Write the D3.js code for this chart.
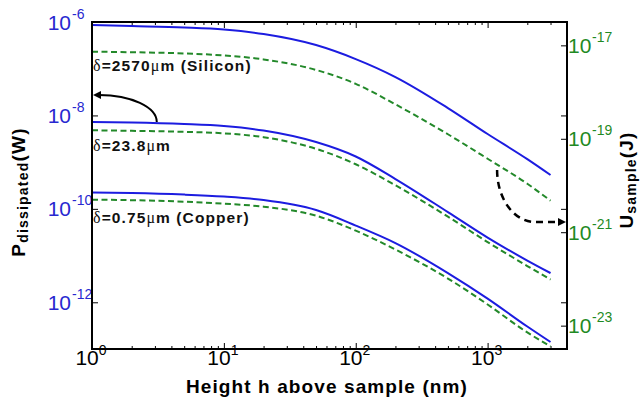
<!DOCTYPE html>
<html><head><meta charset="utf-8">
<script src="https://cdn.jsdelivr.net/npm/d3@7"></script>
<style>body{margin:0;background:#fff}svg{display:block}</style>
</head><body>
<svg id="chart" width="642" height="413"></svg>
<script>
// ---- data ----
const heights = [1, 2, 5, 10, 20, 50, 100, 200, 500, 1000, 2000, 3000];
const pSilicon = [8.63e-7, 8.20e-7, 7.62e-7, 6.90e-7, 5.53e-7, 3.21e-7, 1.61e-7, 6.64e-8, 1.44e-8, 4.00e-9, 1.16e-9, 5.30e-10];
const pMid     = [7.22e-9, 7.05e-9, 6.55e-9, 5.93e-9, 4.75e-9, 2.69e-9, 1.32e-9, 4.35e-10, 8.53e-11, 2.43e-11, 7.81e-12, 4.22e-12];
const pCopper  = [2.23e-10, 2.18e-10, 2.02e-10, 1.83e-10, 1.54e-10, 9.42e-11, 4.39e-11, 1.85e-11, 4.22e-12, 1.20e-12, 3.03e-13, 1.41e-13];
const uSilicon = [7.33e-18, 7.13e-18, 6.71e-18, 6.08e-18, 5.00e-18, 2.98e-18, 1.50e-18, 5.46e-19, 1.25e-19, 3.74e-20, 1.09e-20, 4.73e-21];
const uMid     = [1.52e-19, 1.48e-19, 1.41e-19, 1.31e-19, 1.08e-19, 6.11e-20, 2.85e-20, 1.01e-20, 2.15e-21, 6.14e-22, 1.89e-22, 9.70e-23];
const uCopper  = [4.98e-21, 4.85e-21, 4.51e-21, 4.09e-21, 3.52e-21, 2.26e-21, 1.08e-21, 4.25e-22, 1.02e-22, 2.84e-23, 7.16e-24, 3.60e-24];

const xTicks = [1, 10, 100, 1000];
const xTickExp = ["0", "1", "2", "3"];
const yLeftTicks = [1e-6, 1e-8, 1e-10, 1e-12];
const yLeftExp = ["-6", "-8", "-10", "-12"];
const yRightTicks = [1e-17, 1e-19, 1e-21, 1e-23];
const yRightExp = ["-17", "-19", "-21", "-23"];

const curveLabels = [
  {h: 1, p: 1.15e-7, d: "2570", tail: "m (Silicon)"},
  {h: 1, p: 2.32e-9, d: "23.8", tail: "m"},
  {h: 1, p: 6.67e-11, d: "0.75", tail: "m (Copper)"}
];
const arrowLeft = {from: [3.1, 7.2e-9], to: [1, 2.74e-8]};
const arrowRight = {from: [1180, 2.15e-20], corner: [2290, 1.65e-21], to: [3930, 1.65e-21]};

// ---- layout ----
const L = 92, R = 567, T = 22, B = 349;
const blue = "#1c1ce0", green = "#23892a", blueTxt = "#2828d0", greenTxt = "#1f8a24";
const FONT = "'Liberation Sans', Arial, Helvetica, sans-serif";
const SERIF = "'Liberation Serif', 'Times New Roman', serif";

const svg = d3.select("#chart");
const x = d3.scaleLog().domain([1, 4000]).range([L, R]);
const yL = d3.scaleLog().domain([1e-13, 1e-6]).range([B, T]);
const yR = d3.scaleLog().domain([Math.pow(10, -23.5), Math.pow(10, -16.5)]).range([B, T]);

// minor x ticks
const xMinor = [];
for (let d = 1; d <= 1000; d *= 10) for (let k = 2; k <= 9; k++) if (d * k < 4000) xMinor.push(d * k);

function styleAxis(g) {
  g.select(".domain").remove();
  g.selectAll(".tick line").attr("stroke", "#000").attr("stroke-width", 1);
  g.selectAll(".tick text").remove();
}
svg.append("g").attr("transform", `translate(0,${B})`)
  .call(d3.axisBottom(x).tickValues(xTicks).tickSize(-6).tickFormat("")).call(styleAxis);
svg.append("g").attr("transform", `translate(0,${B})`)
  .call(d3.axisBottom(x).tickValues(xMinor).tickSize(-3).tickFormat("")).call(styleAxis);
svg.append("g").attr("transform", `translate(0,${T})`)
  .call(d3.axisTop(x).tickValues(xTicks).tickSize(-6).tickFormat("")).call(styleAxis);
svg.append("g").attr("transform", `translate(0,${T})`)
  .call(d3.axisTop(x).tickValues(xMinor).tickSize(-3).tickFormat("")).call(styleAxis);
svg.append("g").attr("transform", `translate(${L},0)`)
  .call(d3.axisLeft(yL).tickValues(yLeftTicks).tickSize(-6).tickFormat("")).call(styleAxis);
svg.append("g").attr("transform", `translate(${R},0)`)
  .call(d3.axisRight(yL).tickValues(yLeftTicks).tickSize(-6).tickFormat("")).call(styleAxis);
svg.append("g").attr("transform", `translate(${R},0)`)
  .call(d3.axisRight(yR).tickValues(yRightTicks).tickSize(-6).tickFormat("")).call(styleAxis);

// tick labels
const xl = svg.append("g").attr("font-family", FONT).attr("fill", "#000");
xTicks.forEach((v, i) => {
  const t = xl.append("text").attr("x", x(v) - 1).attr("y", 365).attr("text-anchor", "middle").attr("font-size", 21);
  t.append("tspan").text("10");
  t.append("tspan").attr("dy", -10).attr("font-size", 14).text(xTickExp[i]);
});
yLeftTicks.forEach((v, i) => {
  const y0 = yL(v) + 7.5;
  xl.append("text").attr("x", 71).attr("y", y0).attr("text-anchor", "end").attr("font-size", 21).attr("fill", blueTxt).text("10");
  xl.append("text").attr("x", 72).attr("y", y0 - 11).attr("font-size", 14).attr("fill", blueTxt).text(yLeftExp[i]);
});
yRightTicks.forEach((v, i) => {
  const y0 = yR(v) + 7.5;
  xl.append("text").attr("x", 568).attr("y", y0).attr("font-size", 21).attr("fill", greenTxt).text("10");
  xl.append("text").attr("x", 592).attr("y", y0 - 11).attr("font-size", 14).attr("fill", greenTxt).text(yRightExp[i]);
});

// curves
const line = (vals, ys) => d3.line().x((d, i) => x(heights[i])).y((d, i) => ys(vals[i])).curve(d3.curveMonotoneX)(vals);
const plot = svg.append("g");
[uSilicon, uMid, uCopper].forEach(u => {
  plot.append("path").attr("d", line(u, yR)).attr("fill", "none").attr("stroke", green)
    .attr("stroke-width", 2).attr("stroke-dasharray", "6,3.5");
});
[pSilicon, pMid, pCopper].forEach(p => {
  plot.append("path").attr("d", line(p, yL)).attr("fill", "none").attr("stroke", blue).attr("stroke-width", 2);
});

// frame
svg.append("rect").attr("x", L).attr("y", T).attr("width", R - L).attr("height", B - T)
  .attr("fill", "none").attr("stroke", "#000").attr("stroke-width", 2);

// curve labels
curveLabels.forEach(c => {
  const t = svg.append("text").attr("x", x(c.h) + 1).attr("y", yL(c.p) + 5.5)
    .attr("font-family", FONT).attr("font-size", 15.5).attr("font-weight", "bold").attr("letter-spacing", 1.1).attr("fill", "#111");
  t.append("tspan").attr("font-family", SERIF).attr("font-weight", "normal").attr("font-size", 16).text("δ");
  t.append("tspan").text("=" + c.d);
  t.append("tspan").attr("font-family", SERIF).attr("font-weight", "normal").attr("font-size", 16).text("μ");
  t.append("tspan").text(c.tail);
});

// arrows
{
  const sx = x(arrowLeft.from[0]), sy = yL(arrowLeft.from[1]);
  const ex = x(arrowLeft.to[0]) + 1, ey = yL(arrowLeft.to[1]);
  svg.append("path").attr("d", `M${sx},${sy} A${sx - ex - 6},${sy - ey} 0 0 0 ${ex + 6},${ey}`)
    .attr("fill", "none").attr("stroke", "#000").attr("stroke-width", 2);
  svg.append("path").attr("d", `M${ex},${ey} L${ex + 8},${ey - 4} L${ex + 8},${ey + 4} Z`).attr("fill", "#000");
}
{
  const sx = x(arrowRight.from[0]), sy = yR(arrowRight.from[1]);
  const cx = x(arrowRight.corner[0]), cy = yR(arrowRight.corner[1]);
  const ex = x(arrowRight.to[0]), ey = yR(arrowRight.to[1]);
  svg.append("path").attr("d", `M${sx},${sy} A${cx - sx},${cy - sy} 0 0 0 ${cx},${cy} L${ex - 7},${ey}`)
    .attr("fill", "none").attr("stroke", "#000").attr("stroke-width", 2.5).attr("stroke-dasharray", "7,5");
  svg.append("path").attr("d", `M${ex},${ey} L${ex - 8},${ey - 4} L${ex - 8},${ey + 4} Z`).attr("fill", "#000");
}

// axis titles
svg.append("text").attr("x", 327).attr("y", 393).attr("text-anchor", "middle")
  .attr("font-family", FONT).attr("font-weight", "bold").attr("font-size", 19).attr("letter-spacing", 1.1)
  .text("Height h above sample (nm)");
{
  const t = svg.append("text").attr("transform", "translate(25,192) rotate(-90)").attr("text-anchor", "middle")
    .attr("font-family", FONT).attr("font-weight", "bold").attr("font-size", 19).attr("letter-spacing", 1.2);
  t.append("tspan").text("P");
  t.append("tspan").attr("font-size", 14).attr("dy", 3).text("dissipated");
  t.append("tspan").attr("dy", -3).text("(W)");
}
{
  const t = svg.append("text").attr("transform", "translate(633,180) rotate(-90)").attr("text-anchor", "middle")
    .attr("font-family", FONT).attr("font-weight", "bold").attr("font-size", 19).attr("letter-spacing", 1.2);
  t.append("tspan").text("U");
  t.append("tspan").attr("font-size", 14).attr("dy", 3).text("sample");
  t.append("tspan").attr("dy", -3).text("(J)");
}
</script>
</body></html>
